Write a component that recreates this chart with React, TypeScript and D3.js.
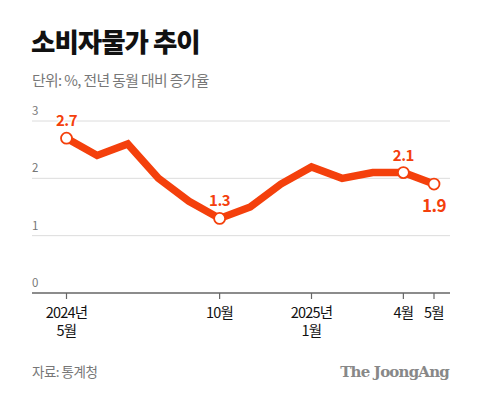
import React from "react";
import * as d3 from "d3";

const months = ["2024-05","2024-06","2024-07","2024-08","2024-09","2024-10","2024-11","2024-12","2025-01","2025-02","2025-03","2025-04","2025-05"];
const values = [2.7, 2.4, 2.6, 2.0, 1.6, 1.3, 1.5, 1.9, 2.2, 2.0, 2.1, 2.1, 1.9];
const yTicks = [0, 1, 2, 3];
const xTickIdx = [0, 5, 8, 11, 12];
const xTickLabels = [["2024년", "5월"], ["10월"], ["2025년", "1월"], ["4월"], ["5월"]];
const labeledIdx = [0, 5, 11, 12];
const labelAbove = [true, true, true, false];

const W = 480, H = 398;
const RED = "#f4400c";
const FONT = "'Noto Sans CJK KR', 'Noto Sans', sans-serif";

export default function App() {
  const x = d3.scaleLinear().domain([0, months.length - 1]).range([66.5, 434]);
  const y = d3.scaleLinear().domain([0, 3]).range([293, 121]);
  const line = d3.line<number>().x((_, i) => x(i)).y(d => y(d));
  return (
    <svg width={W} height={H} style={{ position: "absolute", left: 0, top: 0, background: "#fff" }}>
      <rect width={W} height={H} fill="#fff" />
      <text x={31} y={52} fontFamily={FONT} fontWeight={900} fontSize={26.5} letterSpacing={-1} fill="#111">소비자물가 추이</text>
      <text x={32} y={86} fontFamily={FONT} fontSize={14.8} letterSpacing={-0.6} fill="#777">단위: %, 전년 동월 대비 증가율</text>
      {yTicks.map(t => (
        <g key={t}>
          {t > 0 && <line x1={32} x2={450} y1={y(t)} y2={y(t)} stroke="#dcdcdc" strokeWidth={1} />}
          <text x={32} y={y(t) - 6} fontFamily={FONT} fontSize={11.5} fill="#777">{t}</text>
        </g>
      ))}
      <line x1={32} x2={450} y1={y(0)} y2={y(0)} stroke="#666" strokeWidth={1.5} />
      {xTickIdx.map((idx, k) => (
        <g key={idx}>
          <line x1={x(idx)} x2={x(idx)} y1={y(0)} y2={y(0) + 6} stroke="#666" strokeWidth={1.2} />
          <text x={x(idx)} y={318} textAnchor="middle" fontFamily={FONT} fontSize={14.5} letterSpacing={-0.8} fill="#111">
            {xTickLabels[k].map((s, j) => (
              <tspan key={j} x={x(idx)} dy={j === 0 ? 0 : 17.5}>{s}</tspan>
            ))}
          </text>
        </g>
      ))}
      <path d={line(values) || ""} fill="none" stroke={RED} strokeWidth={7.5} strokeLinejoin="miter" strokeLinecap="butt" />
      {labeledIdx.map((idx, k) => (
        <g key={idx}>
          <circle cx={x(idx)} cy={y(values[idx])} r={5.5} fill="#fff" stroke={RED} strokeWidth={1.8} />
          <text x={x(idx)} y={labelAbove[k] ? y(values[idx]) - 12 : y(values[idx]) + 28}
            textAnchor="middle" fontFamily={FONT} fontWeight={700} fontSize={labelAbove[k] ? 15 : 17}
            letterSpacing={-0.5} fill={RED} stroke="#fff" strokeWidth={3} paintOrder="stroke">{values[idx].toFixed(1)}</text>
        </g>
      ))}
      <text x={32} y={377} fontFamily={FONT} fontSize={13.5} letterSpacing={-0.5} fill="#777">자료: 통계청</text>
      <text x={449} y={377} textAnchor="end" fontFamily="'DejaVu Serif', 'Liberation Serif', serif" fontWeight={700} fontSize={15} letterSpacing={-0.8} fill="#888">The JoongAng</text>
    </svg>
  );
}
